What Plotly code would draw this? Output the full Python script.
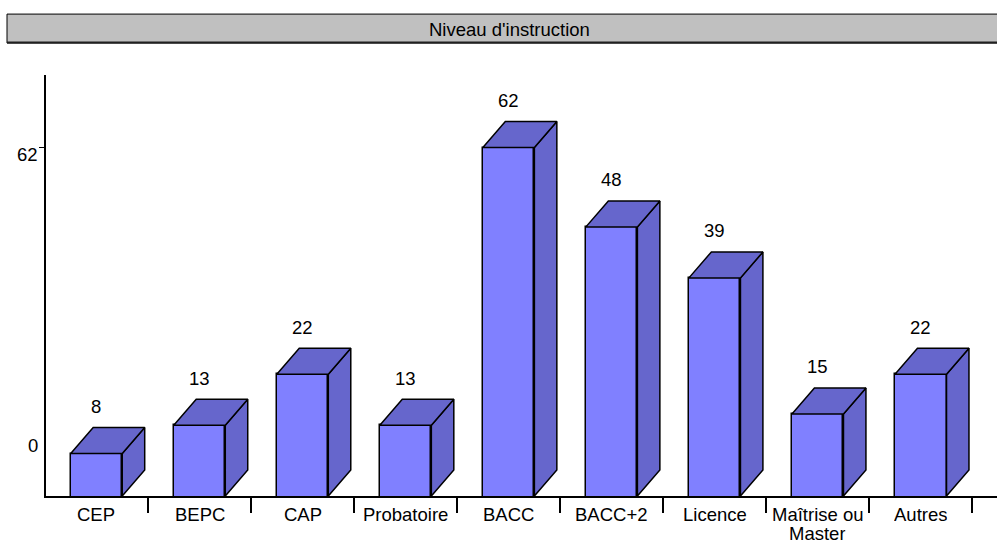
import plotly.graph_objects as go

# Niveau d'instruction — effectifs par diplôme
categories = ["CEP", "BEPC", "CAP", "Probatoire", "BACC", "BACC+2",
              "Licence", "Maîtrise ou<br>Master", "Autres"]
values = [8, 13, 22, 13, 62, 48, 39, 15, 22]
y_tick_labels = ["62", "0"]

FRONT = "#8080FF"
SHADE = "#6666CC"
FONT = dict(family="Liberation Sans, Arial, sans-serif", size=18.5, color="black")

Y_MIN, Y_MAX = 0.51, 74.8
X_MIN, X_MAX = 0.01, 9.24
HALF_W = 0.25          # half width of the front face (category units)
DX, DY = 0.218, 4.58   # depth offset of the 3D extrusion
LABEL_LINE = 18.5      # line pitch of the category labels, px

fig = go.Figure()

centers = [i + 0.5 for i in range(len(categories))]

# Front faces
fig.add_trace(go.Bar(
    x=centers, y=values, width=2 * HALF_W,
    marker=dict(color=FRONT, line=dict(color="black", width=1.5)),
    hoverinfo="skip", showlegend=False,
))

# Top and side faces
for c, v in zip(centers, values):
    xl, xr = c - HALF_W, c + HALF_W
    top_x = [xl, xr, xr + DX, xl + DX, xl]
    top_y = [v, v, v + DY, v + DY, v]
    side_x = [xr, xr, xr + DX, xr + DX, xr]
    side_y = [Y_MIN, v, v + DY, Y_MIN + DY, Y_MIN]
    for px, py in ((side_x, side_y), (top_x, top_y)):
        fig.add_trace(go.Scatter(
            x=px, y=py, mode="lines", fill="toself", fillcolor=SHADE,
            line=dict(color="black", width=1.5),
            hoverinfo="skip", showlegend=False,
        ))

# Value labels above each bar
for c, v in zip(centers, values):
    fig.add_annotation(x=c, y=v + DY, text=str(v), showarrow=False,
                       yanchor="middle", yshift=21, font=FONT)

# Category labels under the axis (tight line pitch for wrapped labels)
for c, label in zip(centers, categories):
    for k, line in enumerate(label.split("<br>")):
        fig.add_annotation(x=c, y=0, yref="paper", text=line, showarrow=False,
                           xanchor="center", yanchor="middle", height=LABEL_LINE,
                           valign="middle",
                           yshift=-18.5 - k * LABEL_LINE, font=FONT)

# Y axis labels
fig.add_annotation(x=0, xref="paper", y=62, text=y_tick_labels[0], showarrow=False,
                   xanchor="right", yanchor="middle", xshift=-6, yshift=-7, font=FONT)
fig.add_annotation(x=0, xref="paper", y=0, yref="paper", text=y_tick_labels[1],
                   showarrow=False, xanchor="right", yanchor="middle",
                   xshift=-6, yshift=50.5, font=FONT)

# Title banner
fig.add_shape(type="rect", xref="paper", yref="paper",
              x0=-0.041, x1=1.02, y0=1.0759, y1=1.1447,
              fillcolor="#C0C0C0", line=dict(color="black", width=1), layer="below")
fig.add_shape(type="line", xref="paper", yref="paper",
              x0=-0.041, x1=1.02, y0=1.0771, y1=1.0771,
              line=dict(color="#202020", width=2))
fig.add_annotation(x=0.4875, y=1.109, xref="paper", yref="paper",
                   text="Niveau d'instruction", showarrow=False,
                   xanchor="center", yanchor="middle", font=FONT)

fig.update_layout(
    width=997, height=543,
    margin=dict(l=46, r=0, t=75, b=46.5),
    paper_bgcolor="white", plot_bgcolor="white",
    font=FONT,
    bargap=0,
    xaxis=dict(
        range=[X_MIN, X_MAX], showgrid=False, zeroline=False, automargin=False,
        showline=True, linecolor="black", linewidth=1.5,
        tickmode="array", tickvals=list(range(1, len(categories) + 1)),
        ticks="outside", ticklen=15, tickwidth=1.5, tickcolor="black",
        showticklabels=False,
    ),
    yaxis=dict(
        range=[Y_MIN, Y_MAX], showgrid=False, zeroline=False, automargin=False,
        showline=True, linecolor="black", linewidth=1.5,
        tickmode="array", tickvals=[62], ticks="outside", ticklen=5,
        tickcolor="black", tickwidth=1, showticklabels=False,
    ),
)

fig.write_html("out.html")
